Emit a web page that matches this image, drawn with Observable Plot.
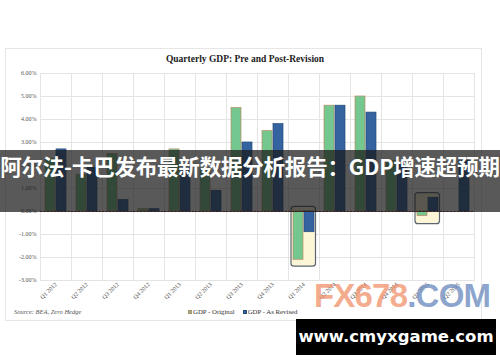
<!DOCTYPE html>
<html>
<head>
<meta charset="utf-8">
<script src="https://cdn.jsdelivr.net/npm/d3@7"></script>
<script src="https://cdn.jsdelivr.net/npm/@observablehq/plot@0.6"></script>
<style>
  html, body { margin: 0; padding: 0; background: #fff; }
  #wrap { position: relative; width: 500px; height: 362px; overflow: hidden; background: #fff; }
  #chartframe { position: absolute; left: 5px; top: 48px; width: 477px; height: 273px; border: 1px solid #e6e6e6; box-sizing: border-box; }
  #plot { position: absolute; left: 0; top: 0; }
  #title { position: absolute; left: 0; width: 490px; top: 54px; text-align: center; font: bold 9.5px "Liberation Serif", serif; color: #222; }
  #source { position: absolute; left: 14px; top: 308px; font: italic 6.5px "Liberation Serif", serif; color: #555; }
  #legend { position: absolute; left: 188px; top: 308px; font: 6.8px "Liberation Serif", serif; color: #333; white-space: nowrap; }
  #legend span.sw { display: inline-block; width: 4px; height: 4px; margin-right: 1px; vertical-align: 0px; box-sizing: border-box; }
  #banner { position: absolute; left: 0; top: 150px; width: 500px; height: 62px; background: rgba(25,25,25,0.72); }
  #bannertext { position: absolute; left: 0; top: 150px; width: 500px; height: 62px; line-height: 62px; text-align: center; color: #fff; font: bold 21.5px "Noto Sans CJK SC", sans-serif; white-space: nowrap; letter-spacing: -0.2px; }
  #wm { position: absolute; left: 314px; top: 279px; font: bold 33px "Liberation Sans", Arial, sans-serif; letter-spacing: -0.8px; white-space: nowrap; line-height: 33px; }
  #wm .a { color: rgba(240,140,100,0.72); }
  #wm .b { color: rgba(110,140,190,0.78); }
  #site { position: absolute; left: 296px; top: 319px; width: 200px; height: 36px; background: #000; color: #fff; font: bold 16.5px "DejaVu Sans", sans-serif; line-height: 36px; text-align: center; white-space: nowrap; }
</style>
</head>
<body>
<div id="wrap">
  <div id="chartframe"></div>
  <div id="plot"></div>
  <div id="title">Quarterly GDP: Pre and Post-Revision</div>
  <div id="source">Source: BEA, Zero Hedge</div>
  <div id="legend"></div>
  <div id="banner"></div>
  <div id="bannertext">阿尔法-卡巴发布最新数据分析报告：GDP增速超预期</div>
  <div id="wm"><span class="a">FX678</span><span class="b">.COM</span></div>
  <div id="site">www.cmyxgame.com</div>
</div>
<script>
// ---- data ----
const quarters = ["Q1 2012","Q2 2012","Q3 2012","Q4 2012","Q1 2013","Q2 2013","Q3 2013","Q4 2013","Q1 2014","Q2 2014","Q3 2014","Q4 2014","Q1 2015","Q2 2015"];
const original = [2.3, 1.6, 2.5, 0.1, 2.7, 1.8, 4.5, 3.5, -2.1, 4.6, 5.0, 2.2, -0.2, null];
const revised  = [2.7, 1.9, 0.5, 0.1, 1.9, 0.9, 3.0, 3.8, -0.9, 4.6, 4.3, 2.1, 0.6, 2.3];
const seriesNames = ["GDP - Original", "GDP - As Revised"];
const seriesFill = ["#74c78f", "#3463a0"];
const seriesStroke = ["#b98d66", "#244a78"];
const highlightQuarters = ["Q1 2014", "Q1 2015"];
const highlightTop = [0.2, 0.8];
const highlightBottom = [-2.4, -0.55];
const yTickValues = [-3, -2, -1, 0, 1, 2, 3, 4, 5, 6];

// ---- tidy table ----
const rows = [];
quarters.forEach((q, i) => {
  if (original[i] != null) rows.push({quarter: q, series: seriesNames[0], value: original[i]});
  if (revised[i] != null) rows.push({quarter: q, series: seriesNames[1], value: revised[i]});
});
const boxes = highlightQuarters.map((q, i) => ({quarter: q, top: highlightTop[i], bottom: highlightBottom[i]}));

const chart = Plot.plot({
  width: 500,
  height: 362,
  marginLeft: 35,
  marginRight: 22,
  marginTop: 73,
  marginBottom: 82,
  style: {fontFamily: "Liberation Serif, serif", fontSize: "6px", color: "#555", background: "transparent"},
  fx: {domain: quarters, padding: 0, axis: "bottom", tickRotate: -45, tickSize: 0, tickPadding: 3, label: null},
  x: {domain: seriesNames, paddingInner: 0.05, paddingOuter: 0.43, axis: null},
  y: {domain: [-3, 6], ticks: yTickValues, tickFormat: d => d.toFixed(2) + "%", tickSize: 0, tickPadding: 4, label: null},
  color: {domain: seriesNames, range: seriesFill},
  marks: [
    Plot.ruleY(yTickValues, {stroke: "#e4e4e4", strokeWidth: 1}),
    Plot.frame({stroke: "#e4e4e4", strokeWidth: 1}),
    Plot.barY(boxes, {fx: "quarter", y1: "bottom", y2: "top", fill: "#fdf6d6", stroke: "#5b6672", strokeWidth: 1.2, rx: 3, insetLeft: 3, insetRight: 3.5}),
    Plot.barY(rows, {fx: "quarter", x: "series", y: "value", fill: "series",
      stroke: d => seriesStroke[seriesNames.indexOf(d.series)], strokeWidth: 0.7}),
    Plot.ruleY([0], {stroke: "#8a1e1e", strokeWidth: 1, strokeDasharray: "2,1.5"})
  ]
});
document.getElementById("plot").appendChild(chart);

// legend
const leg = document.getElementById("legend");
seriesNames.forEach((s, i) => {
  const item = document.createElement("span");
  item.style.marginRight = i === 0 ? "8px" : "0";
  const sw = document.createElement("span");
  sw.className = "sw";
  sw.style.background = seriesFill[i];
  sw.style.border = "0.6px solid " + seriesStroke[i];
  item.appendChild(sw);
  item.appendChild(document.createTextNode(s));
  leg.appendChild(item);
});
</script>
</body>
</html>
